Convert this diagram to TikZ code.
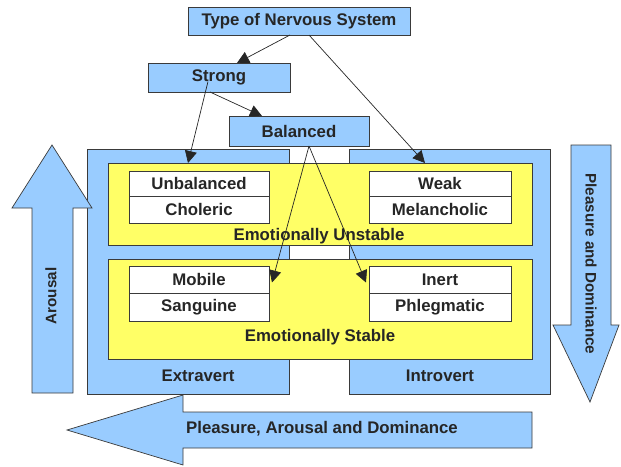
\documentclass[tikz,border=0pt]{standalone}
\usepackage{fontspec}
\setmainfont{Liberation Sans}
\usetikzlibrary{arrows.meta,positioning,calc}
\definecolor{skyblue}{HTML}{99CCFF}
\definecolor{lemon}{HTML}{FFFF66}
\definecolor{edge}{HTML}{3A3A3A}

\begin{document}
\begin{tikzpicture}[x=1pt,y=-1pt,>={Triangle[length=12pt,width=12pt]},
    every node/.style={align=center,inner sep=0pt,outer sep=0pt,font=\fontsize{16.8}{19}\selectfont\bfseries,text=black!85},
    bluebox/.style={draw=edge,line width=0.8pt,fill=skyblue},
    yellowbox/.style={draw=edge,line width=0.8pt,fill=lemon,minimum width=424pt},
    whitebox/.style={draw=edge,line width=0.8pt,fill=white,minimum width=140pt},
    bigarrow/.style={draw=edge,line width=0.7pt,fill=skyblue,line join=miter},
    sidetext/.style={font=\fontsize{15.2}{18}\selectfont\bfseries},
    link/.style={->,line width=0.7pt,draw=black!85}]
    \useasboundingbox (0,0) rectangle (621,466);
    % side boxes
    \node[bluebox,minimum width=202pt,minimum height=245pt] (extra) at (188,271.5) {};
    \node[bluebox,minimum width=201pt,minimum height=245pt] (intro) at (449.5,271.5) {};
    \node (extratxt) at (198,376) {Extravert};
    \node (introtxt) at (440,376) {Introvert};
    % yellow bands
    \node[yellowbox,minimum height=82pt] (unstable) at (320,204) {};
    \node[yellowbox,minimum height=100pt] (stable) at (320,309) {};
    \node (unstabletxt) at (319,236) {Emotionally Unstable};
    \node (stabletxt) at (320,337) {Emotionally Stable};
    % temperaments
    \node[whitebox,minimum height=25pt] (unbal) at (199,183.5) {Unbalanced};
    \node[whitebox,minimum height=27pt] (choleric) at (199,209.5) {Choleric};
    \node[whitebox,minimum width=142pt,minimum height=25pt] (weak) at (440,183.5) {Weak};
    \node[whitebox,minimum width=142pt,minimum height=27pt] (melan) at (440,209.5) {Melancholic};
    \node[whitebox,minimum height=27pt] (mobile) at (199,279.5) {Mobile};
    \node[whitebox,minimum height=28pt] (sanguine) at (199,307) {Sanguine};
    \node[whitebox,minimum width=142pt,minimum height=27pt] (inert) at (440,279.5) {Inert};
    \node[whitebox,minimum width=142pt,minimum height=28pt] (phleg) at (440,307) {Phlegmatic};
    % top
    \node[bluebox,minimum width=222pt,minimum height=28pt] (type) at (299,21) {Type of Nervous System};
    \node[bluebox,minimum width=142pt,minimum height=29pt] (strong) at (219,77.5) {Strong};
    \node[bluebox,minimum width=140pt,minimum height=30pt] (balanced) at (299,131) {Balanced};
    % block arrows
    \draw[bigarrow] (32,393) -- (32,208) -- (12,208) -- (52,145) -- (92,208) -- (73,208) -- (73,393) -- cycle;
    \draw[bigarrow] (571,145) -- (611,145) -- (611,325) -- (619,325) -- (590,402) -- (553,325) -- (571,325) -- cycle;
    \draw[bigarrow] (532,412) -- (532,448) -- (183,448) -- (183,465) -- (67,430) -- (183,395) -- (183,412) -- cycle;
    \node[sidetext,rotate=90] (arousal) at (51,296) {Arousal};
    \node[sidetext,rotate=-90] (pleasdom) at (591,264) {Pleasure and Dominance};
    \node (pad) at (322,429) {Pleasure, Arousal and Dominance};
    % links
    \draw[link] ([xshift=-9pt]type.south) -- ([xshift=18pt]strong.north);
    \draw[link] ([xshift=10pt]type.south) -- ([xshift=105pt]unstable.north);
    \draw[link] ([xshift=-11pt,yshift=-4pt]strong.center) -- ([xshift=-132pt]unstable.north);
    \draw[link] ([xshift=-9pt]strong.south) -- ([xshift=-37pt]balanced.north);
    \draw[link] ([xshift=10pt]balanced.south) -- ([xshift=3pt,yshift=-3pt]mobile.east);
    \draw[link] ([xshift=10pt]balanced.south) -- ([xshift=-3pt,yshift=-3pt]inert.west);
\end{tikzpicture}
\end{document}
